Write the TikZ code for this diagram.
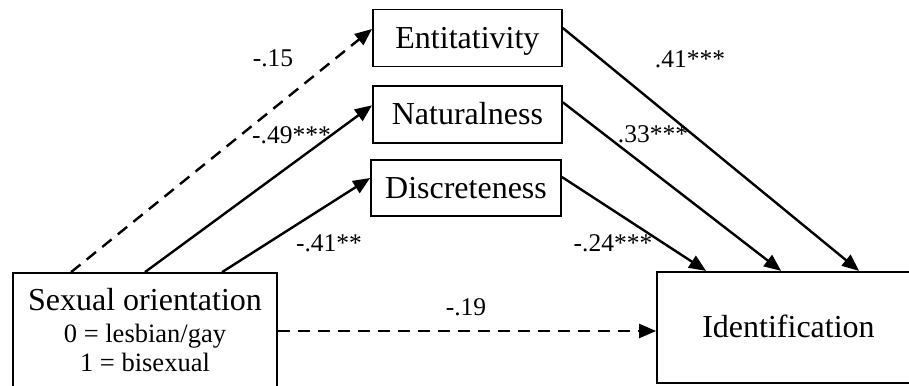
\documentclass[tikz,border=0pt]{standalone}
\usepackage{fontspec}
\setmainfont{Liberation Serif}
\usetikzlibrary{arrows.meta}
\begin{document}
\begin{tikzpicture}[x=1pt,y=-1pt,
  box/.style={draw,line width=1.8pt,inner sep=0pt,font=\fontsize{32}{36}\selectfont,text height=21pt,text depth=0pt},
  arr/.style={line width=2.4pt,-{Triangle[length=17pt,width=14pt]}},
  dsh/.style={dash pattern=on 12pt off 8pt},
  lab/.style={font=\fontsize{25.5}{30}\selectfont,inner sep=0pt,anchor=base},
  big/.style={font=\fontsize{32}{36}\selectfont,inner sep=0pt,anchor=base},
  small/.style={font=\fontsize{26.5}{30}\selectfont,inner sep=0pt,anchor=base}]
\useasboundingbox (0,0) rectangle (909,385);
\clip (0,0) rectangle (909,385);
\node[box,minimum width=189pt,minimum height=57pt] (ent) at (467.4,38) {Entitativity};
\node[box,minimum width=189pt,minimum height=57pt] (nat) at (467.4,114.3) {Naturalness};
\node[box,minimum width=190pt,minimum height=56pt] (dis) at (466,188) {Discreteness};
\node[box,minimum width=264pt,minimum height=130pt] (so) at (145,338) {};
\node[box,minimum width=263pt,minimum height=111pt] (id) at (788.5,327.3) {Identification};
\node[big] (so1) at ([yshift=-38pt]so.north) {Sexual orientation};
\node[small] (so2) at ([yshift=-70pt]so.north) {0 = lesbian/gay};
\node[small] (so3) at ([yshift=-99pt]so.north) {1 = bisexual};
% arrows from sexual orientation
\draw[arr,dsh] ([xshift=59pt]so.north west) -- ([yshift=9pt]ent.west);
\draw[arr] (so.north) -- ([yshift=9pt]nat.west);
\draw[arr] ([xshift=210pt]so.north west) -- ([yshift=10pt]dis.west);
\draw[arr,dsh] ([yshift=7pt]so.east) -- ([yshift=7pt]so.east -| id.west);
% arrows to identification
\draw[arr] ([yshift=10pt]ent.east) -- ([xshift=203pt]id.north west);
\draw[arr] ([yshift=12pt]nat.east) -- ([xshift=125pt]id.north west);
\draw[arr] ([yshift=11pt]dis.east) -- ([xshift=50pt]id.north west);
% labels
\node[lab] (l1) at (273,67) {-.15};
\node[lab] (l2) at (291.5,143) {-.49***};
\node[lab] (l3) at (329,251) {-.41**};
\node[lab] (l4) at (466,315) {-.19};
\node[lab] (l5) at (690,68) {.41***};
\node[lab] (l6) at (653,142) {.33***};
\node[lab] (l7) at (613,251) {-.24***};
\end{tikzpicture}
\end{document}
